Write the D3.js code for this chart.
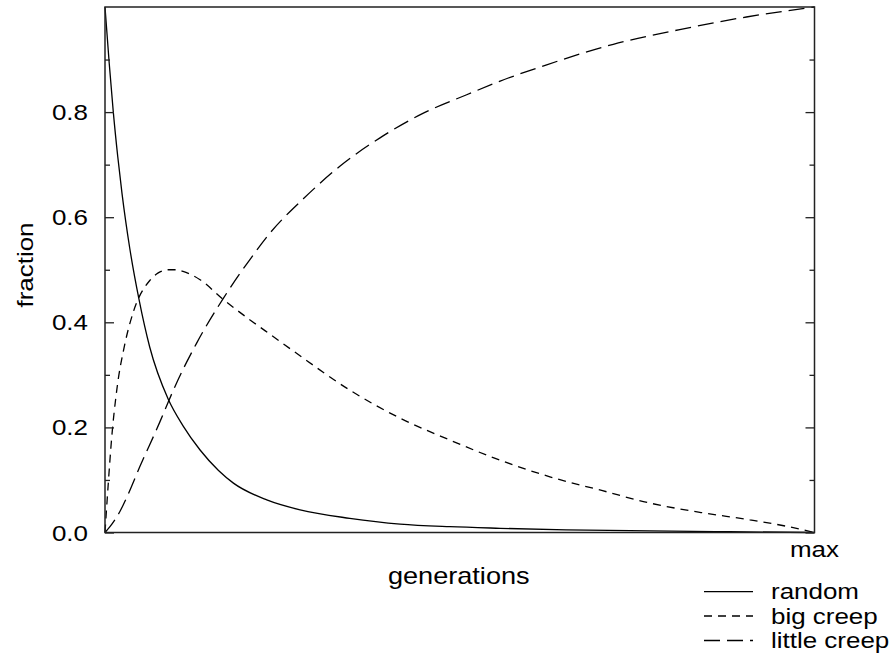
<!DOCTYPE html>
<html>
<head>
<meta charset="utf-8">
<script src="https://cdn.jsdelivr.net/npm/d3@7"></script>
<style>
  html, body { margin: 0; padding: 0; background: #fff; }
  svg text { font-family: "Liberation Sans", Arial, Helvetica, sans-serif; fill: #000; }
</style>
</head>
<body>
<svg id="chart" width="891" height="659"></svg>
<script>
// ---- data (x as fraction of "max" generations) ----
const randomT = [0, 0.006, 0.0117, 0.018, 0.024, 0.035, 0.048, 0.063, 0.089, 0.11, 0.134, 0.16, 0.181, 0.228, 0.275, 0.345, 0.416, 0.486, 0.557, 0.65, 0.768, 0.88, 1.0];
const randomV = [1.0, 0.892, 0.80, 0.715, 0.645, 0.54, 0.443, 0.353, 0.254, 0.203, 0.157, 0.118, 0.094, 0.062, 0.043, 0.027, 0.016, 0.011, 0.008, 0.005, 0.003, 0.0015, 0.0];

const bigT = [0, 0.0047, 0.0094, 0.0165, 0.0282, 0.040, 0.0634, 0.075, 0.0892, 0.100, 0.110, 0.134, 0.167, 0.204, 0.237, 0.270, 0.345, 0.416, 0.486, 0.550, 0.627, 0.700, 0.768, 0.840, 0.909, 0.960, 1.0];
const bigV = [0, 0.095, 0.18, 0.27, 0.36, 0.42, 0.48, 0.494, 0.500, 0.500, 0.497, 0.481, 0.443, 0.405, 0.373, 0.341, 0.271, 0.2175, 0.176, 0.141, 0.106, 0.08, 0.056, 0.038, 0.024, 0.012, 0.0];

const littleT = [0, 0.007, 0.021, 0.031, 0.049, 0.0775, 0.089, 0.0987, 0.129, 0.167, 0.204, 0.2326, 0.2795, 0.331, 0.3876, 0.4487, 0.5098, 0.557, 0.6225, 0.7164, 0.810, 0.904, 1.0];
const littleV = [0, 0.011, 0.040, 0.068, 0.125, 0.211, 0.248, 0.278, 0.360, 0.446, 0.519, 0.570, 0.635, 0.697, 0.751, 0.798, 0.833, 0.859, 0.890, 0.929, 0.957, 0.981, 1.0];

const yTickValues = [0, 0.2, 0.4, 0.6, 0.8];
const yTickLabels = ["0.0", "0.2", "0.4", "0.6", "0.8"];
const yMinorTicks = [0.1, 0.3, 0.5, 0.7, 0.9];
const seriesNames = ["random", "big creep", "little creep"];
const xMaxLabel = "max";
const xTitle = "generations";
const yTitle = "fraction";

// ---- layout ----
const L = 105, R = 814.5, T = 7, B = 532.5;
const SX = 1.18; // horizontal glyph stretch of the reference font

const svg = d3.select("#chart");
const x = d3.scaleLinear().domain([0, 1]).range([L, R]);
const y = d3.scaleLinear().domain([0, 1]).range([B, T]);

const dashes = ["none", "8,6", "16,7"];
const series = [
  d3.zip(randomT, randomV),
  d3.zip(bigT, bigV),
  d3.zip(littleT, littleV)
];

const line = d3.line().x(d => x(d[0])).y(d => y(d[1])).curve(d3.curveMonotoneX);

// curves
const g = svg.append("g");
series.forEach((s, i) => {
  g.append("path")
    .attr("d", line(s))
    .attr("fill", "none")
    .attr("stroke", "#000")
    .attr("stroke-width", 1.3)
    .attr("stroke-dasharray", dashes[i]);
});

// frame
svg.append("rect")
  .attr("x", L).attr("y", T).attr("width", R - L).attr("height", B - T)
  .attr("fill", "none").attr("stroke", "#222").attr("stroke-width", 1.5);

// ticks (inward, both sides) via d3 axes
const axL = d3.axisRight(y).tickValues(yTickValues).tickSize(9).tickFormat("");
const axLm = d3.axisRight(y).tickValues(yMinorTicks).tickSize(5).tickFormat("");
const axR = d3.axisLeft(y).tickValues(yTickValues).tickSize(9).tickFormat("");
const axRm = d3.axisLeft(y).tickValues(yMinorTicks).tickSize(5).tickFormat("");
[[axL, L], [axLm, L], [axR, R], [axRm, R]].forEach(([ax, px]) => {
  const a = svg.append("g").attr("transform", `translate(${px},0)`).call(ax);
  a.select(".domain").remove();
  a.selectAll("line").attr("stroke", "#222").attr("stroke-width", 1.3);
});

// helper for stretched text
function stretchedText(str, px, py, anchor, rot, size) {
  return svg.append("text")
    .attr("transform", `translate(${px},${py})` + (rot ? ` rotate(${rot})` : "") + ` scale(${SX},1)`)
    .attr("text-anchor", anchor)
    .attr("font-size", size || 22)
    .text(str);
}

// y tick labels
yTickValues.forEach((v, i) => {
  stretchedText(yTickLabels[i], 88, y(v) + 8, "end");
});

// x "max" label
stretchedText(xMaxLabel, x(1), 557, "middle");

// titles
stretchedText(xTitle, (L + R) / 2 - 1, 584, "middle", 0, 23);
stretchedText(yTitle, 33, 265, "middle", -90);

// legend
const legY = [591.7, 616, 640.5];
seriesNames.forEach((name, i) => {
  svg.append("line")
    .attr("x1", 704).attr("x2", 753)
    .attr("y1", legY[i]).attr("y2", legY[i])
    .attr("stroke", "#000").attr("stroke-width", 1.3)
    .attr("stroke-dasharray", dashes[i]);
  stretchedText(name, 771, legY[i] + 7.5, "start");
});
</script>
</body>
</html>
